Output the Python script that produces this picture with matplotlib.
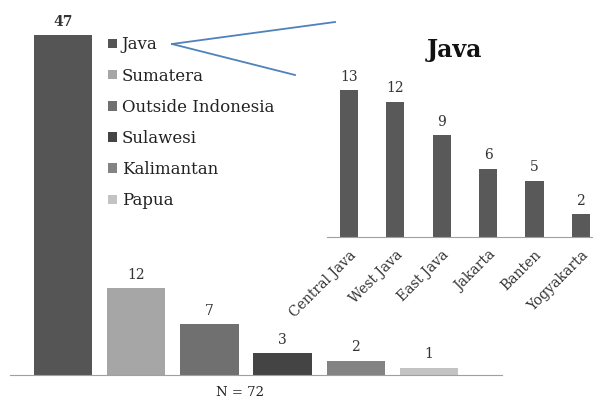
import matplotlib.pyplot as plt
from matplotlib.patches import Patch
from matplotlib.lines import Line2D

plt.rcParams['font.family'] = 'DejaVu Serif'

regions = ['Java', 'Sumatera', 'Outside Indonesia', 'Sulawesi', 'Kalimantan', 'Papua']
region_counts = [47, 12, 7, 3, 2, 1]
region_colors = ['#555555', '#a6a6a6', '#707070', '#444444', '#838383', '#c3c3c3']

java_provinces = ['Central Java', 'West Java', 'East Java', 'Jakarta', 'Banten', 'Yogyakarta']
java_counts = [13, 12, 9, 6, 5, 2]

fig = plt.figure(figsize=(5.93, 4.03), dpi=100)

# main chart: respondents by region
ax = fig.add_axes([0.0169, 0.0695, 0.83, 0.897])
x = range(len(regions))
ax.bar(x, region_counts, width=0.8, color=region_colors)
for i, v in enumerate(region_counts):
    ax.text(i, v + 0.9, str(v), ha='center', va='bottom', fontsize=10,
            fontweight='bold' if i == 0 else 'normal', color='#333333')
ax.set_xlim(-0.724, 6.0)
ax.set_ylim(0, 50)
for s in ['top', 'right', 'left']:
    ax.spines[s].set_visible(False)
ax.spines['bottom'].set_color('#a0a0a0')
ax.set_xticks([])
ax.set_yticks([])
fig.text(240 / 593, 1 - 392 / 403, 'N = 72', ha='center', va='center',
         fontsize=9.5, color='#222222')

handles = [Patch(facecolor=c, edgecolor='none') for c in region_colors]
ax.legend(handles, regions, loc='upper left', bbox_to_anchor=(0.186, 0.955),
          frameon=False, fontsize=12, labelspacing=0.85, handlelength=0.5,
          handleheight=0.5, handletextpad=0.3, borderaxespad=0, labelcolor='#222222')

# inset: breakdown of Java
ax2 = fig.add_axes([0.5514, 0.412, 0.4486, 0.392])
xj = range(len(java_provinces))
ax2.bar(xj, java_counts, width=0.39, color='#595959')
for i, v in enumerate(java_counts):
    ax2.text(i, v + 0.6, str(v), ha='center', va='bottom', fontsize=10, color='#333333')
ax2.set_xlim(-0.47, 5.26)
ax2.set_ylim(0, 14)
for s in ['top', 'right', 'left']:
    ax2.spines[s].set_visible(False)
ax2.spines['bottom'].set_color('#a0a0a0')
ax2.set_yticks([])
ax2.set_xticks(list(xj))
ax2.set_xticklabels(java_provinces, rotation=45, ha='right', rotation_mode='anchor',
                    fontsize=10, color='#333333')
ax2.tick_params(axis='x', length=0, pad=8)
fig.text(0.767, 0.875, 'Java', ha='center', va='center', fontsize=17,
         fontweight='bold', color='#111111')

# connector lines from the legend entry to the inset
fig.lines.append(Line2D([172 / 593, 335 / 593], [1 - 44 / 403, 1 - 22 / 403],
                        transform=fig.transFigure, color='#4f81bd', lw=1.3))
fig.lines.append(Line2D([172 / 593, 295 / 593], [1 - 44 / 403, 1 - 75 / 403],
                        transform=fig.transFigure, color='#4f81bd', lw=1.3))

fig.savefig('out.png', dpi=100)
